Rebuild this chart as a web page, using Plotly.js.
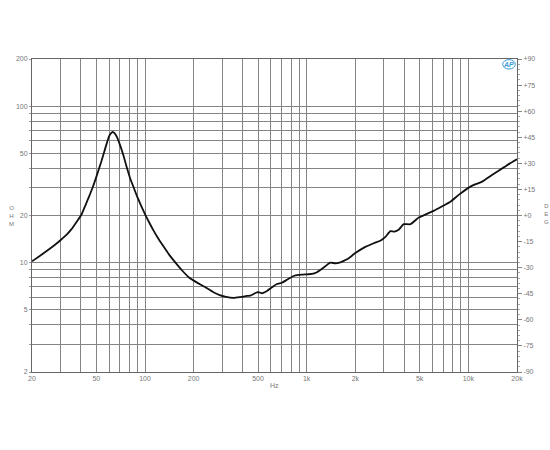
<!DOCTYPE html>
<html>
<head>
<meta charset="utf-8">
<script src="https://cdn.plot.ly/plotly-3.0.1.min.js"></script>
<style>html,body{margin:0;padding:0;background:#fff;}#chart{width:550px;height:450px;}</style>
</head>
<body>
<div id="chart"></div>
<script>
// Frequency (Hz) and impedance (ohm)
const freq = [20, 22, 25, 28, 30, 33, 35, 38, 40.5, 43, 45, 47.5, 50, 52.6, 53.7, 54.8, 55.8, 57, 58.5, 60, 61.5, 63.2, 65, 67, 70, 73.5, 77.2, 81, 85, 90, 95, 100.5, 106, 113, 120, 130, 141, 153, 168, 188, 210, 234, 265, 290, 313, 353, 388, 427, 448, 470, 492, 510, 529, 568, 610, 655, 703, 760, 830, 891, 950, 1005, 1079, 1150, 1214, 1300, 1400, 1503, 1615, 1776, 2000, 2306, 2596, 2856, 3069, 3294, 3488, 3708, 3982, 4382, 4932, 5500, 6106, 6900, 7748, 8800, 10308, 11000, 12178, 14000, 16570, 18000, 20000];
const impedance = [10.2, 10.9, 12.0, 13.1, 13.9, 15.2, 16.3, 18.4, 20.3, 23.5, 26.3, 30.3, 35.3, 41.5, 44.3, 47.5, 50.6, 54.5, 59.5, 64.2, 67.0, 68.3, 67.0, 63.5, 56.5, 48.5, 40.5, 34.5, 30.3, 26.0, 22.9, 20.2, 18.1, 16.0, 14.4, 12.7, 11.25, 10.1, 9.0, 8.0, 7.45, 7.0, 6.46, 6.2, 6.06, 5.95, 6.02, 6.12, 6.15, 6.3, 6.46, 6.45, 6.37, 6.59, 6.95, 7.3, 7.44, 7.8, 8.21, 8.34, 8.38, 8.42, 8.46, 8.65, 8.97, 9.45, 9.99, 9.9, 10.05, 10.5, 11.5, 12.6, 13.3, 13.8, 14.6, 15.9, 15.8, 16.2, 17.6, 17.6, 19.4, 20.4, 21.4, 22.9, 24.5, 27.3, 30.6, 31.6, 32.9, 36.3, 40.6, 42.9, 45.7];

// Axis ticks / grid
const xGridVals = [20,30,40,50,60,70,80,90,100,200,300,400,500,600,700,800,900,1000,2000,3000,4000,5000,6000,7000,8000,9000,10000,20000];
const xLabelMap = {20:'20',50:'50',100:'100',200:'200',500:'500',1000:'1k',2000:'2k',5000:'5k',10000:'10k',20000:'20k'};
const yGridVals = [2,3,4,5,6,7,8,9,10,20,30,40,50,60,70,80,90,100,200];
const yLabelMap = {2:'2',5:'5',10:'10',20:'20',50:'50',100:'100',200:'200'};
const degVals = [-90,-75,-60,-45,-30,-15,0,15,30,45,60,75,90];
const degText = ['-90','-75','-60','-45','-30','-15','+0','+15','+30','+45','+60','+75','+90'];

const xText = xGridVals.map(v => xLabelMap[v] || '');
const yText = yGridVals.map(v => yLabelMap[v] || '');

const tickFont = {family: 'Liberation Sans, Arial, sans-serif', size: 7, color: '#777'};
const gridCol = '#858585';

const traces = [
  {
    x: freq, y: impedance, type: 'scatter', mode: 'lines',
    line: {color: '#111', width: 1.8, shape: 'spline', smoothing: 0.5},
    hoverinfo: 'skip', showlegend: false
  },
  { x: [], y: [], yaxis: 'y2', type: 'scatter', mode: 'lines', showlegend: false, hoverinfo: 'skip' }
];

const layout = {
  width: 550, height: 450,
  margin: {l: 32, r: 33, t: 59, b: 78},
  paper_bgcolor: '#fff', plot_bgcolor: '#fff',
  showlegend: false,
  xaxis: {
    type: 'log', range: [Math.log10(20), Math.log10(20000)],
    tickmode: 'array', tickvals: xGridVals, ticktext: xText,
    showgrid: true, gridcolor: gridCol, gridwidth: 1,
    showline: true, linecolor: '#666', linewidth: 1, mirror: true,
    ticks: '', tickfont: tickFont, zeroline: false
  },
  yaxis: {
    type: 'log', range: [Math.log10(2), Math.log10(200)],
    tickmode: 'array', tickvals: yGridVals, ticktext: yText,
    showgrid: true, gridcolor: gridCol, gridwidth: 1,
    showline: true, linecolor: '#666', linewidth: 1, mirror: true,
    ticks: 'outside', ticklen: 2, tickcolor: '#999', tickfont: tickFont, zeroline: false
  },
  yaxis2: {
    overlaying: 'y', side: 'right', anchor: 'x',
    range: [-90, 90], tickmode: 'array', tickvals: degVals, ticktext: degText,
    showgrid: false, zeroline: false, showline: true, linecolor: '#666',
    ticks: 'outside', ticklen: 4, tickcolor: '#888', tickfont: tickFont,
    minor: {dtick: 3, ticks: 'outside', ticklen: 2, tickcolor: '#aaa', showgrid: false}
  },
  annotations: [
    {xref: 'paper', yref: 'paper', x: -0.043, y: 0.5, text: 'O<br>H<br>M', showarrow: false,
     font: {family: 'Liberation Sans, Arial, sans-serif', size: 6, color: '#777'}, xanchor: 'center', yanchor: 'middle'},
    {xref: 'paper', yref: 'paper', x: 1.06, y: 0.505, text: 'D<br>E<br>G', showarrow: false,
     font: {family: 'Liberation Sans, Arial, sans-serif', size: 6, color: '#777'}, xanchor: 'center', yanchor: 'middle'},
    {xref: 'paper', yref: 'paper', x: 0.5, y: -0.042, text: 'Hz', showarrow: false,
     font: {family: 'Liberation Sans, Arial, sans-serif', size: 7, color: '#777'}, xanchor: 'center', yanchor: 'middle'},
    {xref: 'paper', yref: 'paper', x: 0.9835, y: 0.983, text: '<i><b>AP</b></i>', showarrow: false,
     font: {family: 'Liberation Sans, Arial, sans-serif', size: 7, color: '#3b9bd6'}, xanchor: 'center', yanchor: 'middle'}
  ],
  shapes: [
    {type: 'circle', xref: 'paper', yref: 'paper', x0: 0.9705, x1: 0.9965, y0: 0.968, y1: 0.998,
     line: {color: '#3b9bd6', width: 1}}
  ]
};

Plotly.newPlot('chart', traces, layout, {staticPlot: true, displayModeBar: false});
</script>
</body>
</html>
